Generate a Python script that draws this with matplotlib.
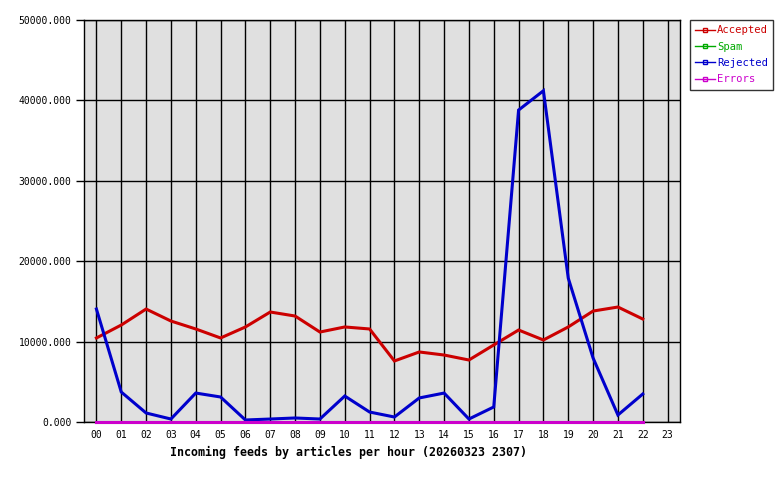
import matplotlib
matplotlib.use("Agg")
import matplotlib.pyplot as plt
from matplotlib.lines import Line2D

HOURS = ["00", "01", "02", "03", "04", "05", "06", "07", "08", "09", "10", "11",
         "12", "13", "14", "15", "16", "17", "18", "19", "20", "21", "22", "23"]

ACCEPTED = [10450, 12060, 14050, 12560, 11570, 10450, 11820, 13680, 13180, 11190,
            11820, 11570, 7590, 8710, 8330, 7710, 9580, 11440, 10200, 11820,
            13800, 14300, 12810]
SPAM = [0] * 23
REJECTED = [14050, 3730, 1120, 370, 3600, 3110, 250, 370, 500, 370,
            3230, 1240, 620, 2990, 3600, 370, 1870, 38800, 41200, 17900,
            7960, 870, 3480]
ERRORS = [0] * 23

SERIES = [
    ("Accepted", ACCEPTED, "#cc0000"),
    ("Spam", SPAM, "#00aa00"),
    ("Rejected", REJECTED, "#0000cc"),
    ("Errors", ERRORS, "#cc00cc"),
]

MONO = "DejaVu Sans Mono"

fig = plt.figure(figsize=(7.8, 4.8), dpi=100)
ax = fig.add_axes([84 / 780, 58 / 480, 596 / 780, 402 / 480])
ax.set_facecolor("#e0e0e0")

x = list(range(len(ACCEPTED)))
handles = []
for name, values, color in SERIES:
    ax.plot(x, values, color=color, lw=2.2, solid_joinstyle="miter",
            zorder=3, clip_on=False)
    handles.append(Line2D([0], [0], color=color, lw=1, marker="s", ms=3,
                          mfc="none", mec=color, markevery=[1]))

ax.set_xlim(-0.5, 23.5)
ax.set_ylim(0, 50000)
ax.set_xticks(range(len(HOURS)))
ax.set_xticklabels(HOURS, fontfamily=MONO, fontsize=7)
yt = [0, 10000, 20000, 30000, 40000, 50000]
ax.set_yticks(yt)
ax.set_yticklabels([f"{v:.3f}" for v in yt], fontfamily=MONO, fontsize=7)
ax.tick_params(axis="x", length=0, pad=6)
ax.tick_params(axis="y", length=6, width=1, pad=3)
ax.grid(True, color="black", lw=1, zorder=1)
ax.set_axisbelow(True)
for s in ax.spines.values():
    s.set_linewidth(1)
    s.set_color("black")
    s.set_zorder(2.5)

fig.text(348 / 780, 1 - 452 / 480, "Incoming feeds by articles per hour (20260323 2307)",
         ha="center", va="center", fontfamily=MONO, fontweight="bold", fontsize=8.4)

leg = fig.legend(handles, [s[0] for s in SERIES], loc="upper left",
                 bbox_to_anchor=(690 / 780, 1 - 20 / 480), borderaxespad=0,
                 frameon=True, prop={"family": MONO, "size": 7.6},
                 handlelength=1.9, handletextpad=0.15, labelspacing=0.6,
                 borderpad=0.5, fancybox=False)
leg.get_frame().set_edgecolor("black")
leg.get_frame().set_linewidth(1)
for text, (_, _, color) in zip(leg.get_texts(), SERIES):
    text.set_color(color)

fig.savefig("out.png", dpi=100, facecolor="white")
